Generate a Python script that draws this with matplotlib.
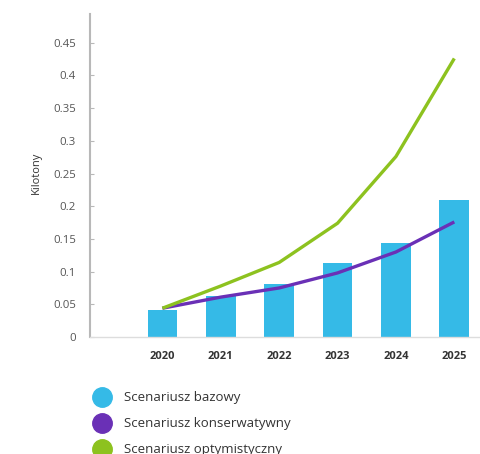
import matplotlib
matplotlib.use("Agg")
import matplotlib.pyplot as plt
from matplotlib.lines import Line2D
from matplotlib.ticker import FuncFormatter

plt.rcParams['font.family'] = ['Open Sans', 'DejaVu Sans']

years = ["2020", "2021", "2022", "2023", "2024", "2025"]
bazowy = [0.041, 0.063, 0.081, 0.113, 0.144, 0.210]
konserwatywny = [0.044, 0.061, 0.075, 0.098, 0.130, 0.176]
optymistyczny = [0.044, 0.078, 0.114, 0.174, 0.276, 0.426]
series_names = ["Scenariusz bazowy", "Scenariusz konserwatywny", "Scenariusz optymistyczny"]
colors = ["#35BAE7", "#6A30B6", "#8DC21F"]
y_ticks = [0, 0.05, 0.1, 0.15, 0.2, 0.25, 0.3, 0.35, 0.4, 0.45]

W, H = 481, 454
fig = plt.figure(figsize=(W / 100, H / 100), dpi=100)
ax = fig.add_axes([90 / W, 1 - 337 / H, 390 / W, (337 - 14) / H])

x = list(range(len(years)))
ax.bar(x, bazowy, width=0.51, color=colors[0], zorder=2)
ax.plot(x, konserwatywny, color=colors[1], lw=2.4, zorder=3, solid_capstyle='butt')
ax.plot(x, optymistyczny, color=colors[2], lw=2.4, zorder=4, solid_capstyle='butt')

ax.set_xlim(-1.24, 5.44)
ax.set_ylim(0, 0.494)
ax.set_yticks(y_ticks)
ax.yaxis.set_major_formatter(FuncFormatter(lambda v, p: f"{v:g}"))
ax.set_xticks(x)
ax.set_xticklabels(years, fontweight='bold', fontsize=8, color='#333333')

for s in ['top', 'right']:
    ax.spines[s].set_visible(False)
ax.spines['left'].set_color('#b8b8b8')
ax.spines['left'].set_linewidth(1.5)
ax.spines['bottom'].set_color('#dddddd')
ax.spines['bottom'].set_linewidth(1.0)

ax.tick_params(axis='y', direction='in', length=3, width=0.8, color='#b8b8b8',
               labelsize=8.2, labelcolor='#555555', pad=10)
ax.tick_params(axis='x', length=0, pad=10)

fig.text(36 / W, 1 - 173 / H, "Kilotony", rotation=90, ha='center', va='center',
         fontsize=8, color='#333333')

handles = [Line2D([], [], marker='o', ls='none', markersize=14, color=c) for c in colors]
fig.legend(handles, series_names, loc='upper left', bbox_to_anchor=(89 / W, 1 - 386 / H),
           frameon=False, fontsize=9.5, handletextpad=1.08, labelspacing=0.98,
           labelcolor='#333333', borderaxespad=0, handlelength=1.2)

fig.savefig("out.png", dpi=100)
